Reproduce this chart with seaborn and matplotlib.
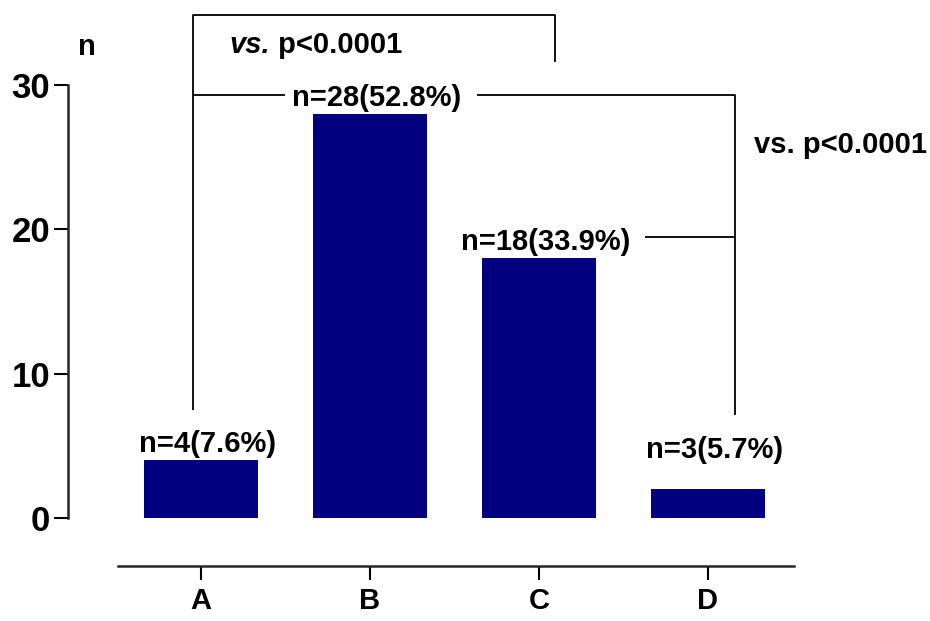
import matplotlib
matplotlib.use('Agg')
import matplotlib.pyplot as plt
import seaborn as sns
import pandas as pd

categories = ['A', 'B', 'C', 'D']
counts = [4, 28, 18, 2]
bar_labels = ['n=4(7.6%)', 'n=28(52.8%)', 'n=18(33.9%)', 'n=3(5.7%)']
yticks = [0, 10, 20, 30]
y_label = 'n'
vs_text = 'vs.'
p_text = 'p<0.0001'

sns.set_theme(style='ticks')
plt.rcParams['font.family'] = ['Liberation Sans', 'DejaVu Sans']
plt.rcParams['font.weight'] = 'bold'

fig = plt.figure(figsize=(9.3, 6.21), dpi=100)
ax = fig.add_axes([68 / 930, 103 / 621, 762 / 930, 505.2 / 621])

df = pd.DataFrame({'group': categories, 'n': counts})
sns.barplot(data=df, x='group', y='n', color='#000080', saturation=1,
            width=0.675, linewidth=0, ax=ax)

ax.set_xlim(-0.787, 3.722)
ax.set_ylim(0, 35)
ax.set_xlabel('')
ax.set_ylabel('')

for s in ['top', 'right']:
    ax.spines[s].set_visible(False)
ax.spines['left'].set_bounds(0, 30)
ax.spines['left'].set_linewidth(1.8)
ax.spines['bottom'].set_position(('outward', 34.6))
ax.spines['bottom'].set_bounds(-0.49, 3.51)
ax.spines['bottom'].set_linewidth(1.8)

ax.set_yticks(yticks)
ax.set_yticklabels([str(t) for t in yticks], fontsize=25, fontweight='bold')
ax.tick_params(axis='y', length=10, width=1.5, pad=3, colors='black')
ax.tick_params(axis='x', length=10, width=1.5, pad=5, colors='black', labelsize=21)
for lab in ax.get_xticklabels():
    lab.set_fontweight('bold')

# bar value labels
for i, (v, lab) in enumerate(zip(counts, bar_labels)):
    dy = 28 if i == 3 else 11.5
    ax.annotate(lab, xy=(i, v), xytext=(5, dy), textcoords='offset points',
                ha='center', va='center', fontsize=21, fontweight='bold',
                color='black', annotation_clip=False)

# y-axis title
ax.text(-0.675, 32.6, y_label, ha='center', va='center', fontsize=21,
        fontweight='bold', color='black')

lw = 1.3
kw = dict(color='black', lw=lw, clip_on=False, solid_capstyle='butt')
# top bracket A -> C
ax.plot([-0.047, -0.047, 2.095, 2.095], [7.48, 34.85, 34.85, 31.6], **kw)
# second bracket A/B -> D
ax.plot([-0.047, 0.497], [29.3, 29.3], **kw)
ax.plot([1.633, 3.16, 3.16], [29.3, 29.3, 7.14], **kw)
ax.plot([2.627, 3.16], [19.47, 19.47], **kw)

# top p-value text with italic "vs."
t1 = ax.text(0.17, 32.8, vs_text, ha='left', va='center', fontsize=21,
             fontweight='bold', fontstyle='italic', color='black')
ax.annotate(' ' + p_text, xy=(1, 0), xycoords=t1, ha='left', va='bottom',
            fontsize=21, fontweight='bold', color='black')

# right p-value text
ax.text(3.787, 25.85, vs_text + ' ' + p_text, ha='center', va='center',
        fontsize=21, fontweight='bold', color='black', clip_on=False)

fig.savefig('out.png', dpi=100)
